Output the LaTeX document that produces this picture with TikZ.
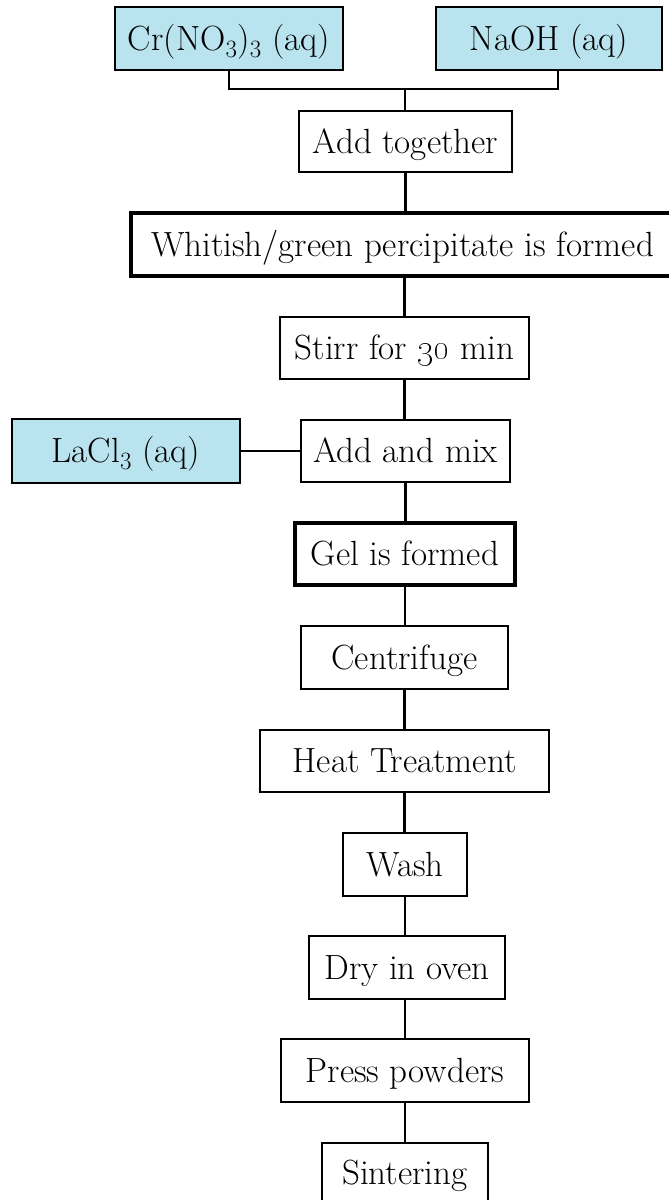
\documentclass[tikz,border=0pt]{standalone}
\usetikzlibrary{positioning}
\definecolor{inblue}{RGB}{185,227,238}
\begin{document}
\begin{tikzpicture}[x=1pt,y=-1pt,
  box/.style={draw=black,line width=2.2pt,inner sep=0pt,outer sep=0pt,
    text height=23pt,text depth=0pt,font=\fontsize{35pt}{42pt}\selectfont,align=center},
  inbox/.style={box,fill=inblue,line width=2.6pt},
  thickbox/.style={box,line width=3.2pt},
  link/.style={draw=black,line width=2.2pt}]
\useasboundingbox (0,0) rectangle (669,1200);
\begin{scope}
\clip (0,0) rectangle (669,1200);
\node[inbox,minimum width=228pt,minimum height=63pt] (cr) at (229,38.5) {Cr(NO$_3$)$_3$ (aq)};
\node[inbox,minimum width=226pt,minimum height=63pt] (naoh) at (549,38.5) {NaOH (aq)};
\coordinate (j) at (405,89);
\node[box,minimum width=213pt,minimum height=61pt] (add) at (405.5,141.5) {Add together};
\node[thickbox,minimum width=543pt,minimum height=63pt] (white) at (402.5,244.5) {Whitish/green percipitate is formed};
\node[box,minimum width=249pt,minimum height=62pt] (stirr) at (404.5,348) {Stirr for \oldstylenums{30} min};
\node[inbox,minimum width=228pt,minimum height=64pt] (lacl) at (126,451) {LaCl$_3$ (aq)};
\node[box,minimum width=209pt,minimum height=62pt] (mix) at (405.5,451) {Add and mix};
\node[thickbox,minimum width=220pt,minimum height=62pt] (gel) at (405,554) {Gel is formed};
\node[box,minimum width=207pt,minimum height=63pt] (cent) at (404.5,657.5) {Centrifuge};
\node[box,minimum width=289pt,minimum height=62pt] (heat) at (404.5,761) {Heat Treatment};
\node[box,minimum width=124pt,minimum height=63pt] (wash) at (405,864.5) {Wash};
\node[box,minimum width=196pt,minimum height=63pt] (dry) at (407,967.5) {Dry in oven};
\node[box,minimum width=248pt,minimum height=63pt] (press) at (405,1070.5) {Press powders};
\node[box,minimum width=166pt,minimum height=60pt] (sint) at (405,1173) {Sintering};

\draw[link] (cr.south) |- (j) -| ([xshift=9pt]naoh.south);
\draw[link] (j) -- (j |- add.north);
\draw[link] (add.south) -- (add.south |- white.north);
\draw[link] (white.south -| stirr.north) -- (stirr.north);
\draw[link] (stirr.south) -- (stirr.south |- mix.north);
\draw[link] (lacl.east) -- (mix.west);
\draw[link] (mix.south) -- (mix.south |- gel.north);
\draw[link] (gel.south) -- (gel.south |- cent.north);
\draw[link] (cent.south) -- (cent.south |- heat.north);
\draw[link] (heat.south) -- (heat.south |- wash.north);
\draw[link] (wash.south) -- (wash.south |- dry.north);
\draw[link] (dry.south -| press.north) -- (press.north);
\draw[link] (press.south) -- (press.south |- sint.north);
\end{scope}
\end{tikzpicture}
\end{document}
